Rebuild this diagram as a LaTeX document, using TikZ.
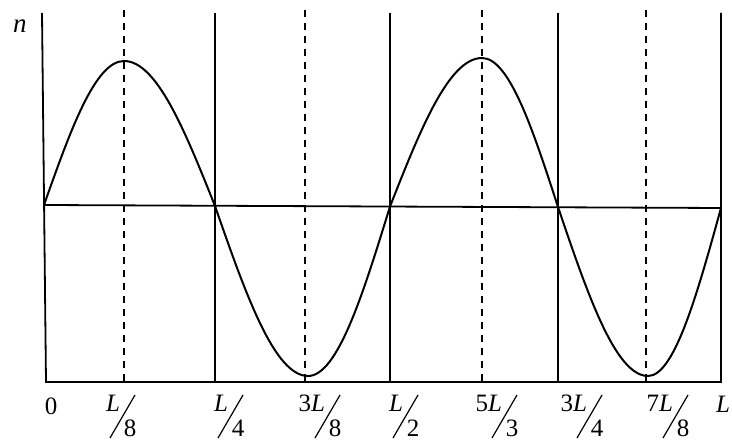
\documentclass[tikz,border=0pt]{standalone}
\usepackage{fontspec}
\setmainfont{Liberation Serif}

\begin{document}
\begin{tikzpicture}[x=0.5pt,y=-0.5pt,line width=0.9pt,
    font=\fontsize{12.5}{14}\selectfont]
  \useasboundingbox (0,0) rectangle (732,442);

  %% ── axes and divisions of the length ──
  \draw (42,13) -- (46,382) -- (721,382) -- (721,13);
  \foreach \xx in {215,390,558}
    \draw (\xx,13) -- (\xx,382);
  \foreach \xx in {124,305,482,646}
    \draw[dash pattern=on 3.5pt off 3pt] (\xx,10) -- (\xx,382);
  \draw (44,205) -- (721,208);

  %% ── refractive index profile ──
  \draw[line width=1pt] (44,205) sin (124,61) cos (215,206)
    sin (308,376) cos (390,206.5) sin (482,58) cos (558,207)
    sin (648,376) cos (721,208);

  %% ── labels ──
  \node[font=\fontsize{13.5}{15}\selectfont\itshape] (n) at (20,26) {n};
  \node[anchor=base,inner sep=0] (zero) at (51,415) {0};
  \foreach \bx/\num/\den [count=\i] in {110/{\textit{L}}/8, 218/{\textit{L}}/4,
      315/{3\textit{L}}/8, 393/{\textit{L}}/2, 492/{5\textit{L}}/3,
      577/{3\textit{L}}/4, 663/{7\textit{L}}/8}{
    \node[anchor=base east,inner sep=0] (num\i) at (\bx+11,411) {\num};
    \node[anchor=base west,inner sep=0] (den\i) at (\bx+13,437) {\den};
    \draw[line width=0.6pt] (\bx,438) -- (\bx+25,395);
  }
  \node[anchor=base east,inner sep=0] (len) at (731,413) {\textit{L}};
\end{tikzpicture}
\end{document}
